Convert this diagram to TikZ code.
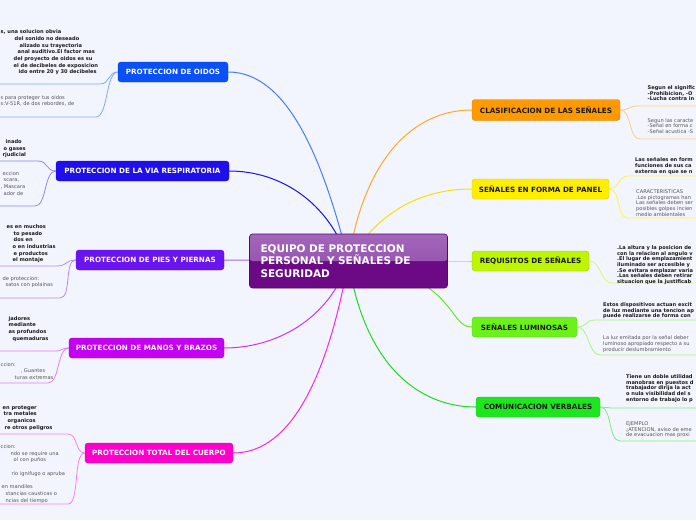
\documentclass[tikz,border=0pt]{standalone}
\usepackage{fontspec}
\setmainfont{DejaVu Sans}
\pgfdeclarelayer{bgl}
\pgfdeclarelayer{lines}
\pgfsetlayers{bgl,lines,main}
\definecolor{bg}{HTML}{F3F5FE}
\definecolor{tdark}{HTML}{1A1A1A}
\definecolor{tgray}{HTML}{555555}
\definecolor{cOid}{HTML}{0A50F5}
\definecolor{cResp}{HTML}{1E0FEB}
\definecolor{cPies}{HTML}{6A14F0}
\definecolor{cManos}{HTML}{C400F2}
\definecolor{cTotal}{HTML}{FF00CC}
\definecolor{cClas}{HTML}{FF9900}
\definecolor{cPanel}{HTML}{FFEE00}
\definecolor{cReq}{HTML}{BEF500}
\definecolor{cLum}{HTML}{6CF21A}
\definecolor{cVerb}{HTML}{1EE61E}
\definecolor{rootTop}{HTML}{A266BA}
\definecolor{rootMid}{HTML}{8E48A6}
\definecolor{rootBot}{HTML}{6C0A86}
\begin{document}
\begin{tikzpicture}[x=1pt,y=-1pt,
  rootbox/.style={rounded corners=3pt, draw=rootBot!80!black, line width=0.6pt,
    fill=rootBot, minimum width=198pt, minimum height=54pt, inner xsep=11pt, inner ysep=0pt,
    text width=176pt, align=left, text=white,
    font=\fontsize{10.5}{12.5}\selectfont\bfseries,
    path picture={\shade[top color=rootTop, bottom color=rootMid]
      (path picture bounding box.north west) rectangle (path picture bounding box.east);}},
  mainbox/.style={rounded corners=3pt, minimum height=20pt, inner sep=0pt,
    font=\fontsize{7.2}{8}\selectfont\bfseries, text=white},
  lb/.style={anchor=north west, inner sep=0pt, align=left, text=tdark,
    font=\fontsize{5.1}{6.7}\selectfont\bfseries},
  ll/.style={anchor=north west, inner sep=0pt, align=left, text=tgray,
    font=\fontsize{5.1}{6.7}\selectfont},
  rbt/.style={anchor=north west, inner sep=0pt, align=left, text=tdark,
    font=\fontsize{5.1}{5.6}\selectfont\bfseries},
  rlt/.style={anchor=north west, inner sep=0pt, align=left, text=tgray,
    font=\fontsize{5.1}{5.6}\selectfont},
  conn/.style={line width=1pt},
  sub/.style={line width=0.8pt}
]
\useasboundingbox (0,0) rectangle (696,520);
\begin{pgfonlayer}{bgl}
\fill[bg] (0,0) rectangle (696,520);
\end{pgfonlayer}
\clip (0,0) rectangle (696,520);

% root
\node[rootbox] (root) at (348.5,261) {EQUIPO DE PROTECCION\\PERSONAL Y SEÑALES DE\\SEGURIDAD};

% left main nodes
\node[mainbox, fill=cOid, draw=cOid!85!black, minimum width=110pt] (oidos) at (173,72) {PROTECCION DE OIDOS};
\node[mainbox, fill=cResp, draw=cResp!85!black, minimum width=173pt] (resp) at (142.5,171) {PROTECCION DE LA VIA RESPIRATORIA};
\node[mainbox, fill=cPies, draw=cPies!85!black, minimum width=148pt] (pies) at (150,260) {PROTECCION DE PIES Y PIERNAS};
\node[mainbox, fill=cManos, draw=cManos!85!black, minimum width=155pt] (manos) at (146.5,348) {PROTECCION DE MANOS Y BRAZOS};
\node[mainbox, fill=cTotal, draw=cTotal!85!black, minimum width=148pt] (total) at (159,453) {PROTECCION TOTAL DEL CUERPO};

% right main nodes
\node[mainbox, fill=cClas, draw=cClas!85!black, text=tdark, minimum width=148pt, minimum height=21pt] (clas) at (546,110) {CLASIFICACION DE LAS SEÑALES};
\node[mainbox, fill=cPanel, draw=cPanel!85!black, text=tdark, minimum width=137pt] (panel) at (540.5,189) {SEÑALES EN FORMA DE PANEL};
\node[mainbox, fill=cReq, draw=cReq!85!black, text=tdark, minimum width=117pt] (req) at (530.5,261) {REQUISITOS DE SEÑALES};
\node[mainbox, fill=cLum, draw=cLum!85!black, text=tdark, minimum width=105pt] (lum) at (524.5,327) {SEÑALES LUMINOSAS};
\node[mainbox, fill=cVerb, draw=cVerb!85!black, text=tdark, minimum width=124pt] (verb) at (538,407) {COMUNICACION VERBALES};

% text blocks left
\node[lb] (tOa) at (0.5,29.7) {s, una solucion obvia\\
\hspace*{14pt}del sonido no deseado\\
\hspace*{19pt}alizado su trayectoria\\
\hspace*{17pt}anal auditivo.El factor mas\\
\hspace*{13pt}del proyecto de oidos es su\\
\hspace*{13pt}el de decibeles de exposicion\\
\hspace*{18pt}ido entre 20 y 30 decibeles};
\node[ll] (tOb) at (0.5,95) {s para proteger tus oidos\\
s:V-51R, de dos rebordes, de};

\node[lb] (tRa) at (0.5,139.4) {\hspace*{5pt}inado\\
\hspace*{3pt}o gases\\
\hspace*{2pt}rjudicial};
\node[ll] (tRb) at (0.5,171) {\hspace*{2pt}eccion\\
\hspace*{3pt}scara,\\
, Mascara\\
\hspace*{3pt}ador de};

\node[lb] (tPa) at (0.5,224.4) {\hspace*{6pt}es en muchos\\
\hspace*{13pt}to pesado\\
\hspace*{13pt}dos en\\
\hspace*{12pt}o en industrias\\
\hspace*{13pt}e productos\\
\hspace*{12pt}el montaje};
\node[ll] (tPb) at (0.5,276) {\hspace*{2pt}de proteccion:\\
\hspace*{5pt}satos con polainas};

\node[lb] (tMa) at (0.5,316) {\hspace*{8pt}jadores\\
\hspace*{8pt}mediante\\
\hspace*{8pt}as profundos\\
\hspace*{12pt}quemaduras};
\node[ll] (tMb) at (0.5,362) {ccion:\\
\hspace*{20pt}, Guantes\\
\hspace*{14pt}turas extremas};

\node[lb] (tTa) at (0.5,405.4) {\hspace*{2pt}en proteger\\
\hspace*{3pt}tra metales\\
\hspace*{7pt}organicos\\
\hspace*{4pt}re otros peligros};
\node[ll] (tTb) at (0.5,444.4) {ccion:\\
\hspace*{10pt}ndo se require una\\
\hspace*{13pt}ol con puños\\
\mbox{}\\
\hspace*{11pt}rio ignifugo o apruba\\
\mbox{}\\
\hspace*{1pt}en mandiles\\
\hspace*{5pt}stancias causticas o\\
\hspace*{5pt}ncias del tiempo};

% text blocks right
\node[rbt] (tCa) at (647.5,85.7) {Segun el signific\\-Prohibicion, -O\\-Lucha contra in};
\node[rlt] (tCb) at (647.5,118) {Segun las caracte\\-Señal en forma c\\-Señal acustica -S};

\node[rbt] (tNa) at (635,157.7) {Las señales en form\\funciones de sus ca\\externa en que se n};
\node[rlt] (tNb) at (636,189.7) {CARACTERISTICAS\\.Los pictogramas han\\Las señales deben ser\\posibles golpes incien\\medio ambientales};

\node[rbt] (tQa) at (617,245.7) {.La altura y la posicion de\\con la relacion al angulo v\\.El lugar de emplazamient\\iluminado ser accesible y\\.Se evitara emplazar varia\\.Las señales deben retirar\\situacion que la justificab};

\node[rbt] (tLa) at (603,302.7) {Estos dispositivos actuan excit\\de luz mediante una tencion ap\\puede realizarse de forma con};
\node[rlt] (tLb) at (603,335.7) {La luz emitada por la señal deber\\luminoso apropiado respecto a su\\producir deslumbramiento};

\node[rbt] (tVa) at (626,374.7) {Tiene un doble utilidad\\manobras en puestos d\\trabajador dirija la act\\o nula visibilidad del s\\entorno de trabajo lo p};
\node[rlt] (tVb) at (626,421.7) {EJEMPLO\\¡ATENCION, aviso de eme\\de evacuacion mas proxi};

% coordinates for underline ends
\coordinate (oa) at (100,84);  \coordinate (oae) at (0,84);
\coordinate (ob) at (96,117);  \coordinate (obe) at (0,117);
\coordinate (ra) at (38,161);  \coordinate (rae) at (0,161);
\coordinate (rb) at (35,206);  \coordinate (rbe) at (0,206);
\coordinate (pa) at (57,266);  \coordinate (pae) at (0,266);
\coordinate (pb) at (60,298);  \coordinate (pbe) at (0,298);
\coordinate (ma) at (55,351);  \coordinate (mae) at (0,351);
\coordinate (mb) at (48,383);  \coordinate (mbe) at (0,383);
\coordinate (ta) at (68,434);  \coordinate (tae) at (0,434);
\coordinate (tb) at (68,504);  \coordinate (tbe) at (0,504);
\coordinate (ca) at (638,106); \coordinate (cae) at (696,106);
\coordinate (cb) at (640,139); \coordinate (cbe) at (696,139);
\coordinate (na) at (628,176); \coordinate (nae) at (696,176);
\coordinate (nb) at (628,218); \coordinate (nbe) at (696,218);
\coordinate (qa) at (612,283); \coordinate (qae) at (696,283);
\coordinate (la) at (595,320); \coordinate (lae) at (696,320);
\coordinate (lbb) at (600,355); \coordinate (lbe) at (696,355);
\coordinate (va) at (612,408); \coordinate (vae) at (696,408);
\coordinate (vb) at (620,441); \coordinate (vbe) at (696,441);

\begin{pgfonlayer}{lines}
% main connectors
\draw[conn, cOid!75] (root.center) .. controls +(-25,-100) and +(60,0) .. (oidos.east);
\draw[conn, cResp] (root.center) .. controls +(-20,-60) and +(50,0) .. (resp.east);
\draw[conn, cPies!65] (root.center) .. controls +(-40,0) and +(20,0) .. (pies.east);
\draw[conn, cManos!80] (root.center) .. controls +(-20,60) and +(50,0) .. (manos.east);
\draw[conn, cTotal!85] (root.center) .. controls +(-20,110) and +(60,0) .. (total.east);
\draw[conn, cClas!85] (root.center) .. controls +(15,-100) and +(-60,0) .. (clas.west);
\draw[conn, cPanel!95!black] (root.center) .. controls +(30,-50) and +(-50,0) .. (panel.west);
\draw[conn, cReq!95!black] (root.center) .. controls +(40,0) and +(-20,0) .. (req.west);
\draw[conn, cLum!95!black] (root.center) .. controls +(110,15) and +(-25,0) .. (lum.west);
\draw[conn, cVerb!95!black] (root.center) .. controls +(15,100) and +(-60,0) .. (verb.west);
% sub connectors
\draw[sub, cOid!50] (oidos.west) .. controls +(-10,0) and +(10,0) .. (oa) -- (oae);
\draw[sub, cOid!50] (oidos.west) .. controls +(-12,0) and +(12,0) .. (ob) -- (obe);
\draw[sub, cResp!50] (resp.west) .. controls +(-10,0) and +(10,0) .. (ra) -- (rae);
\draw[sub, cResp!50] (resp.west) .. controls +(-12,0) and +(12,0) .. (rb) -- (rbe);
\draw[sub, cPies!50] (pies.west) .. controls +(-10,0) and +(10,0) .. (pa) -- (pae);
\draw[sub, cPies!50] (pies.west) .. controls +(-12,0) and +(12,0) .. (pb) -- (pbe);
\draw[sub, cManos!50] (manos.west) .. controls +(-8,0) and +(8,0) .. (ma) -- (mae);
\draw[sub, cManos!50] (manos.west) .. controls +(-12,0) and +(12,0) .. (mb) -- (mbe);
\draw[sub, cTotal!50] (total.west) .. controls +(-10,0) and +(10,0) .. (ta) -- (tae);
\draw[sub, cTotal!50] (total.west) .. controls +(-12,0) and +(12,0) .. (tb) -- (tbe);
\draw[sub, cClas!50] (clas.east) .. controls +(10,0) and +(-10,0) .. (ca) -- (cae);
\draw[sub, cClas!50] (clas.east) .. controls +(12,0) and +(-12,0) .. (cb) -- (cbe);
\draw[sub, cPanel!70] (panel.east) .. controls +(10,0) and +(-10,0) .. (na) -- (nae);
\draw[sub, cPanel!70] (panel.east) .. controls +(12,0) and +(-12,0) .. (nb) -- (nbe);
\draw[sub, cReq!60] (req.east) .. controls +(12,0) and +(-12,0) .. (qa) -- (qae);
\draw[sub, cLum!60] (lum.east) .. controls +(10,0) and +(-10,0) .. (la) -- (lae);
\draw[sub, cLum!60] (lum.east) .. controls +(12,0) and +(-12,0) .. (lbb) -- (lbe);
\draw[sub, cVerb!60] (verb.east) .. controls +(6,0) and +(-6,0) .. (va) -- (vae);
\draw[sub, cVerb!60] (verb.east) .. controls +(12,0) and +(-12,0) .. (vb) -- (vbe);
\end{pgfonlayer}
\end{tikzpicture}
\end{document}
